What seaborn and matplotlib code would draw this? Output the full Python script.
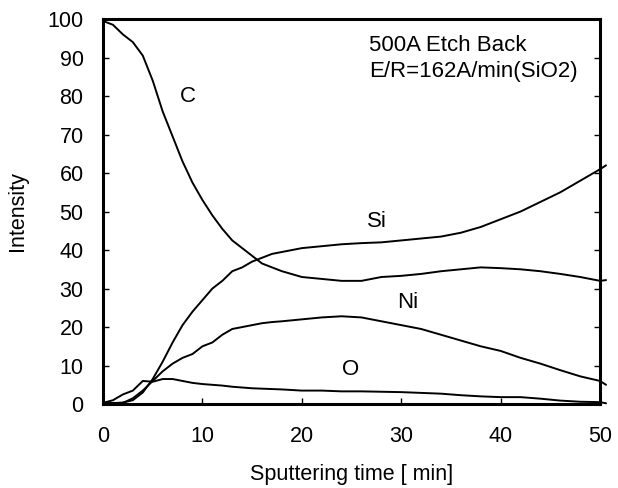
import pandas as pd
import matplotlib
matplotlib.use("Agg")
import matplotlib.pyplot as plt
import seaborn as sns

# sputtering time [min]
time = [0, 1, 2, 3, 4, 5, 6, 7, 8, 9, 10, 11, 12, 13, 14, 15, 16, 17, 18,
        20, 22, 24, 26, 28, 30, 32, 34, 36, 38, 40, 42, 44, 46, 48, 50, 50.6]

carbon = [99.5, 98.5, 96, 94, 90.5, 84, 76, 69.5, 63, 57.5, 53, 49, 45.5, 42.5,
          40.5, 38.5, 36.5, 35.5, 34.5, 33, 32.5, 32, 32, 33, 33.3, 33.8, 34.5,
          35, 35.5, 35.3, 35, 34.5, 33.8, 33, 32, 32.2]
silicon = [0.3, 0.2, 0.4, 1, 3, 6.5, 11, 16, 20.5, 24, 27, 30, 32, 34.5, 35.5,
           37, 38, 39, 39.5, 40.5, 41, 41.5, 41.8, 42, 42.5, 43, 43.5, 44.5, 46,
           48, 50, 52.5, 55, 58, 61, 62]
nickel = [0.2, 0.3, 0.3, 1.5, 3.5, 6, 8.5, 10.5, 12, 13, 15, 16, 18, 19.5, 20,
          20.5, 21, 21.3, 21.5, 22, 22.5, 22.8, 22.5, 21.5, 20.5, 19.5, 18,
          16.5, 15, 13.8, 12, 10.5, 8.8, 7.2, 6, 5]
oxygen = [0.3, 1, 2.5, 3.5, 6, 5.8, 6.5, 6.5, 6, 5.5, 5.2, 5, 4.8, 4.5, 4.3,
          4.1, 4, 3.9, 3.8, 3.5, 3.5, 3.3, 3.3, 3.2, 3.1, 2.9, 2.7, 2.3, 2,
          1.8, 1.8, 1.4, 0.9, 0.6, 0.5, 0.2]

df = pd.DataFrame({"time": time, "C": carbon, "Si": silicon,
                   "Ni": nickel, "O": oxygen})
df_long = df.melt(id_vars="time", var_name="element", value_name="intensity")

sns.set_style("ticks")
plt.rcParams["font.family"] = ["Liberation Sans", "DejaVu Sans"]
plt.rcParams.update({"text.color": "black", "axes.labelcolor": "black",
                     "xtick.color": "black", "ytick.color": "black"})

fig = plt.figure(figsize=(6.18, 4.88), dpi=100)
ax = fig.add_axes([0.1667, 0.172, 0.8043, 0.789])

sns.lineplot(data=df_long, x="time", y="intensity", hue="element",
             palette=["black"] * 4, linewidth=1.4, legend=False, ax=ax,
             clip_on=False)

ax.set_xlim(0, 50)
ax.set_ylim(0, 100)
ax.set_xticks(range(0, 51, 10))
ax.set_yticks(range(0, 101, 10))
ax.tick_params(direction="in", length=4, width=1, labelsize=15.5,
               left=True, right=True, bottom=True, top=False)
ax.tick_params(axis="x", pad=16)
ax.tick_params(axis="y", pad=14)
for s in ax.spines.values():
    s.set_linewidth(2.2)
    s.set_color("black")

ax.set_xlabel("Sputtering time [ min]", fontsize=15.5)
ax.set_ylabel("Intensity", fontsize=15.5)
ax.xaxis.set_label_coords(0.5, -0.155)
ax.yaxis.set_label_coords(-0.15, 0.5)

# curve labels
ax.text(8.5, 80, "C", fontsize=16, ha="center", va="center")
ax.text(27.6, 47.4, "Si", fontsize=16, ha="center", va="center")
ax.text(30.6, 26.3, "Ni", fontsize=16, ha="center", va="center")
ax.text(24.9, 9, "O", fontsize=16, ha="center", va="center")

ax.text(26.8, 93, "500A Etch Back", fontsize=16, ha="left", va="center")
ax.text(26.8, 86.5, "E/R=162A/min(SiO2)", fontsize=16, ha="left", va="center")

plt.savefig("out.png", dpi=100)
